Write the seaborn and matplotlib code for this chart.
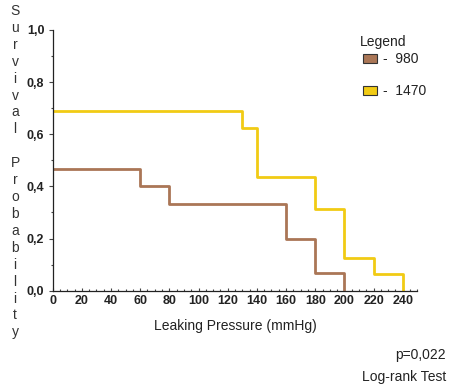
import matplotlib
matplotlib.use("Agg")
import matplotlib.pyplot as plt
import matplotlib.ticker as mticker
from matplotlib.patches import Patch
import seaborn as sns
import pandas as pd

# ---- data ----
groups = ["980", "1470"]
pressure_980 = [0, 60, 80, 160, 180, 200]
survival_980 = [0.4667, 0.40, 0.3333, 0.20, 0.0667, 0.0]
pressure_1470 = [0, 130, 140, 180, 200, 220, 240]
survival_1470 = [0.6875, 0.625, 0.4375, 0.3125, 0.125, 0.0625, 0.0]
x_ticks = [0, 20, 40, 60, 80, 100, 120, 140, 160, 180, 200, 220, 240]
y_ticks = [0.0, 0.2, 0.4, 0.6, 0.8, 1.0]
colors = {"980": "#AA7656", "1470": "#F1CB14"}

df = pd.concat([
    pd.DataFrame({"pressure": pressure_980, "survival": survival_980, "group": "980"}),
    pd.DataFrame({"pressure": pressure_1470, "survival": survival_1470, "group": "1470"}),
], ignore_index=True)

sns.set_theme(style="white")
plt.rcParams["font.family"] = ["Liberation Sans", "DejaVu Sans"]

W, H = 464, 390
fig = plt.figure(figsize=(W / 100, H / 100), dpi=100)
ax = fig.add_axes([52.7 / W, 1 - 290.7 / H, (417.3 - 52.7) / W, (290.7 - 30) / H])

sns.lineplot(data=df, x="pressure", y="survival", hue="group", hue_order=groups,
             palette=colors, estimator=None, drawstyle="steps-post",
             linewidth=2.0, legend=False, ax=ax)

ax.set_xlim(0, 250)
ax.set_ylim(0, 1.0)
ax.set_xticks(x_ticks)
ax.set_yticks(y_ticks)
ax.set_yticklabels([f"{v:.1f}".replace(".", ",") for v in y_ticks])
ax.xaxis.set_minor_locator(mticker.MultipleLocator(5))
ax.yaxis.set_minor_locator(mticker.MultipleLocator(0.1))
for s in ["top", "right"]:
    ax.spines[s].set_visible(False)
for s in ["left", "bottom"]:
    ax.spines[s].set_color("#222222")
    ax.spines[s].set_linewidth(0.9)

ax.tick_params(axis="x", which="major", direction="in", length=2, width=0.8,
               color="#444444", labelsize=9, pad=3, bottom=True)
ax.tick_params(axis="x", which="minor", direction="in", length=1.5, width=0.8,
               color="#444444", bottom=True)
ax.tick_params(axis="y", which="major", direction="out", length=3, width=0.8,
               color="#444444", labelsize=9, pad=3, left=True)
ax.tick_params(axis="y", which="minor", direction="out", length=1.5, width=0.8,
               color="#444444", left=True)
for lab in ax.get_xticklabels() + ax.get_yticklabels():
    lab.set_fontweight("bold")
    lab.set_color("#222222")

ax.set_xlabel("Leaking Pressure (mmHg)", fontsize=10, color="#222222", labelpad=9)
ax.set_ylabel("")

# vertical stacked y-label (one letter per line)
fig.text(15 / W, 1 - 4 / H, "\n".join("Survival Probability"), ha="center", va="top",
         fontsize=10, color="#333333", linespacing=1.265)

# legend
fig.text(360 / W, 1 - 42 / H, "Legend", ha="left", va="center",
         fontsize=10, color="#222222")
handles = [Patch(facecolor=colors[g], edgecolor="#333333", linewidth=0.8) for g in groups]
leg = fig.legend(handles, ["-  " + g for g in groups],
                 loc="upper left", bbox_to_anchor=(363 / W, 1 - 52 / H),
                 frameon=False, fontsize=10, labelspacing=1.3,
                 handlelength=1.0, handleheight=0.6, handletextpad=0.45,
                 borderpad=0, borderaxespad=0)
for t in leg.get_texts():
    t.set_color("#222222")

fig.text(446 / W, 1 - 355 / H, "p=0,022", ha="right", va="center",
         fontsize=10, color="#222222")
fig.text(446 / W, 1 - 377 / H, "Log-rank Test", ha="right", va="center",
         fontsize=10, color="#222222")

fig.savefig("out.png", dpi=100, facecolor="white")
